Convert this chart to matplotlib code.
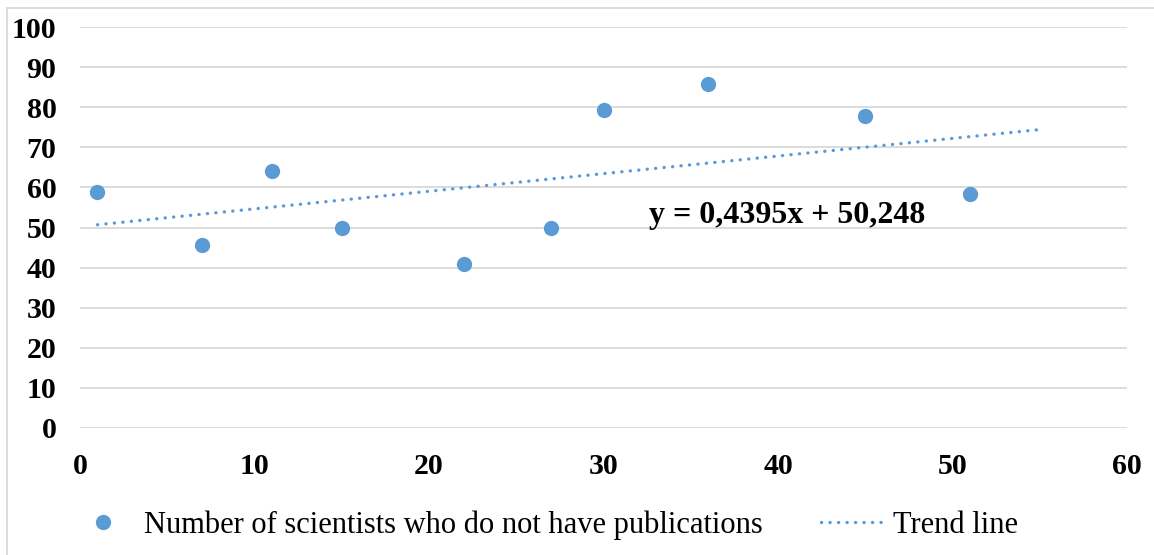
import numpy as np
from matplotlib import pyplot as plt
from matplotlib.lines import Line2D

# data
years = [1, 7, 11, 15, 22, 27, 30, 36, 45, 51]
no_pubs = [58.9, 45.6, 64.1, 50.0, 41.0, 50.0, 79.2, 85.8, 77.8, 58.4]
trend_x = [1, 55]
slope = 0.4395
intercept = 50.248
x_ticks = [0, 10, 20, 30, 40, 50, 60]
y_ticks = [0, 10, 20, 30, 40, 50, 60, 70, 80, 90, 100]

blue = "#5B9BD5"
grid_gray = "#D9D9D9"
dots = (0, (0.05, 2.5))

plt.rcParams["font.family"] = ["Liberation Serif", "DejaVu Serif"]

fig = plt.figure(figsize=(11.54, 5.55), dpi=100)
ax = fig.add_axes([80 / 1154, 1 - 428 / 555, (1127 - 80) / 1154, (428 - 27) / 555])

# trend line from the fitted equation
tx = np.array(trend_x, dtype=float)
ax.plot(tx, slope * tx + intercept, linestyle=dots, color=blue, linewidth=2.4,
        dash_capstyle="round", zorder=2)
ax.plot(years, no_pubs, "o", color=blue, markersize=11, markeredgewidth=0, zorder=3)

ax.text(32.6, 53.0, "y = 0,4395x + 50,248", fontsize=23, fontweight="bold",
        va="center", ha="left")

ax.set_xlim(0, 60)
ax.set_ylim(0, 100)
ax.set_xticks(x_ticks)
ax.set_yticks(y_ticks)
ax.tick_params(length=0, labelsize=21.5)
ax.tick_params(axis="y", pad=17)
ax.tick_params(axis="x", pad=18)
for lab in ax.get_xticklabels() + ax.get_yticklabels():
    lab.set_fontweight("bold")
ax.grid(axis="y", color=grid_gray, linewidth=1.3)
ax.set_axisbelow(True)
for s in ax.spines.values():
    s.set_visible(False)

handles = [
    Line2D([], [], marker="o", linestyle="none", color=blue, markersize=11, markeredgewidth=0),
    Line2D([], [], linestyle=dots, color=blue, linewidth=2.4, dash_capstyle="round"),
]
fig.legend(handles, ["Number of scientists who do not have publications", "Trend line"],
           loc="center", bbox_to_anchor=(0.472, 1 - 525 / 555), ncol=2, frameon=False,
           fontsize=22, handlelength=2.1, columnspacing=1.9, handletextpad=0.27)

# outer chart frame (top and left edges visible)
fig.add_artist(Line2D([7 / 1154, 1], [1 - 8 / 555, 1 - 8 / 555], color=grid_gray,
                      linewidth=1.3, transform=fig.transFigure))
fig.add_artist(Line2D([7 / 1154, 7 / 1154], [0, 1 - 8 / 555], color=grid_gray,
                      linewidth=1.3, transform=fig.transFigure))

fig.savefig("out.png", dpi=100)
